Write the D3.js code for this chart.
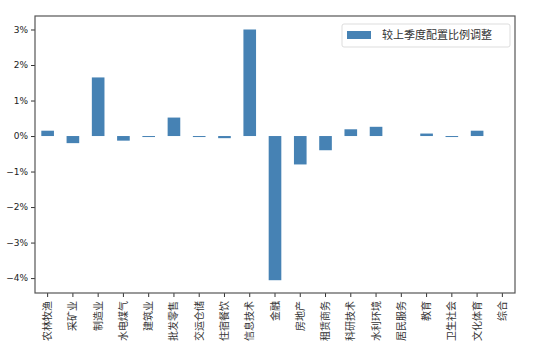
<!DOCTYPE html>
<html><head><meta charset="utf-8">
<script src="https://cdn.jsdelivr.net/npm/d3@7"></script>
<style>body{margin:0;background:#fff;} svg{display:block;}</style>
</head><body>
<svg id="c" width="540" height="362"></svg>
<script>
const categories = ["农林牧渔","采矿业","制造业","水电煤气","建筑业","批发零售","交运仓储","住宿餐饮","信息技术","金融","房地产","租赁商务","科研技术","水利环境","居民服务","教育","卫生社会","文化体育","综合"];
const values = [0.15,-0.2,1.65,-0.13,-0.02,0.52,-0.02,-0.06,3.0,-4.06,-0.8,-0.4,0.19,0.26,0,0.07,-0.02,0.15,0];
const yTicks = [3,2,1,0,-1,-2,-3,-4];
const legendLabel = "较上季度配置比例调整";

const svg = d3.select("#c");
const L=35, R=515, T=16, B=293;
const font = "'Noto Sans CJK SC', sans-serif";
const x = d3.scaleBand().domain(categories).range([L,R]).paddingInner(0.5).paddingOuter(0.25);
const y = d3.scaleLinear().domain([-4.42,3.38]).range([B,T]);

svg.append("g").selectAll("rect").data(values).join("rect")
  .attr("x",(d,i)=>x(categories[i]))
  .attr("width",x.bandwidth())
  .attr("y",d=>y(Math.max(0,d)))
  .attr("height",d=>d===0?0:Math.max(1,Math.abs(y(d)-y(0))))
  .attr("fill","#4682b4");

const ya = svg.append("g").attr("transform",`translate(${L},0)`)
  .call(d3.axisLeft(y).tickValues(yTicks).tickSize(4).tickPadding(3).tickFormat(d=>(d<0?"\u2212"+(-d):d)+"%"));
ya.select(".domain").remove();
ya.selectAll("text").attr("font-family","'DejaVu Sans', sans-serif").attr("font-size",9).attr("fill","#222");
ya.selectAll("line").attr("stroke","#333");

const xa = svg.append("g").attr("transform",`translate(0,${B})`)
  .call(d3.axisBottom(x).tickSize(4).tickPadding(4));
xa.select(".domain").remove();
xa.selectAll("line").attr("stroke","#333");
xa.selectAll("text").attr("font-family",font).attr("font-size",10).attr("fill","#333")
  .attr("transform","rotate(-90)").attr("text-anchor","end").attr("dy","0.35em")
  .attr("x",-8).attr("y",0);

svg.append("rect").attr("x",L).attr("y",T).attr("width",R-L).attr("height",B-T)
  .attr("fill","none").attr("stroke","#555").attr("stroke-width",1.2);

const lg = svg.append("g");
lg.append("rect").attr("x",342).attr("y",24).attr("width",168).attr("height",23).attr("rx",2)
  .attr("fill","#fff").attr("stroke","#ddd");
lg.append("rect").attr("x",347).attr("y",31).attr("width",24).attr("height",8).attr("fill","#4682b4");
lg.append("text").attr("x",382).attr("y",39).attr("font-family",font).attr("font-size",11).attr("fill","#333").text(legendLabel);
</script>
</body></html>
